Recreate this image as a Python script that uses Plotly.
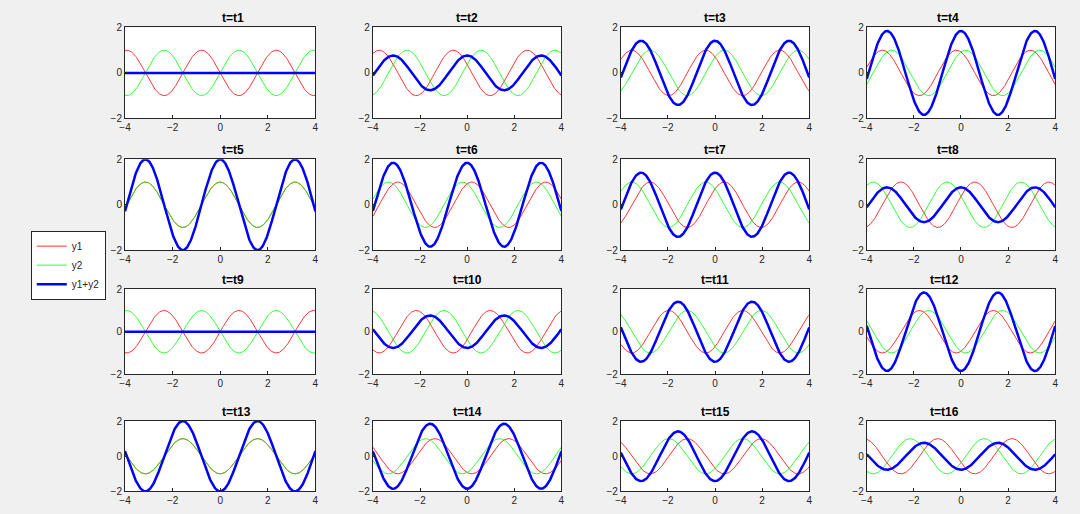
import numpy as np
import plotly.graph_objects as go

# phase of each panel (t1..t16): y1 = cos(2x + phi), y2 = cos(2x - phi)
phases = [np.pi / 2 - k * np.pi / 8 for k in range(16)]
titles = [f"t=t{k + 1}" for k in range(16)]
x = np.linspace(-4, 4, 401)

col_px = [(120, 312), (370, 560), (620, 810), (868, 1058)]
row_px = [(22, 115), (157, 250), (290, 377), (425, 497)]
W, H = 1080, 514

fig = go.Figure()
for i, phi in enumerate(phases):
    r, c = divmod(i, 4)
    n = "" if i == 0 else str(i + 1)
    y1 = np.cos(2 * x + phi)
    y2 = np.cos(2 * x - phi)
    for y, name, col, w in [(y1, "y1", "#ff0000", 0.8), (y2, "y2", "#00ff00", 0.8),
                            (y1 + y2, "y1+y2", "#0000ff", 2.5)]:
        fig.add_trace(go.Scatter(x=x, y=y, mode="lines", name=name,
                                 line=dict(color=col, width=w),
                                 showlegend=(i == 0), xaxis="x" + n, yaxis="y" + n))
    x0, x1 = col_px[c]
    t0, b0 = row_px[r]
    common = dict(showline=True, mirror=True, linecolor="#262626", linewidth=1,
                  ticks="inside", ticklen=3, tickcolor="#262626", showgrid=False,
                  zeroline=False, tickfont=dict(size=10, color="#262626"))
    fig.layout["xaxis" + n] = dict(domain=[x0 / W, x1 / W], anchor="y" + n,
                                   range=[-4, 4], tickvals=[-4, -2, 0, 2, 4], **common)
    fig.layout["yaxis" + n] = dict(domain=[1 - b0 / H, 1 - t0 / H], anchor="x" + n,
                                   range=[-2, 2], tickvals=[-2, 0, 2], **common)
    fig.add_annotation(text=f"<b>{titles[i]}</b>", x=(x0 + x1) / 2 / W, y=1 - t0 / H,
                       xref="paper", yref="paper", yanchor="bottom", showarrow=False,
                       font=dict(size=12, color="black"))

fig.update_layout(
    margin=dict(l=0, r=0, t=0, b=0),
    paper_bgcolor="#f0f0f0", plot_bgcolor="white",
    font=dict(family="Liberation Sans, Arial", size=10, color="#262626"),
    legend=dict(x=25 / W, y=1 - 230 / H, xanchor="left", yanchor="top",
                bgcolor="white", bordercolor="#262626", borderwidth=1,
                font=dict(size=10, color="#262626"), tracegroupgap=0),
)
fig.write_html("out.html", default_width="100vw", default_height="100vh",
               config={"responsive": True, "displayModeBar": False})
with open("out.html") as f:
    html = f.read()
html = html.replace("<head>", "<head><style>html,body{margin:0;padding:0;overflow:hidden;background:#f0f0f0}</style>", 1)
with open("out.html", "w") as f:
    f.write(html)
